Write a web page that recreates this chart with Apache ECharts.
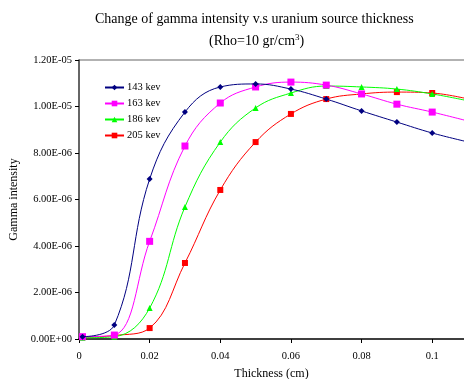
<!DOCTYPE html>
<html>
<head>
<meta charset="utf-8">
<script src="https://cdn.jsdelivr.net/npm/echarts@6/dist/echarts.min.js"></script>
<style>
html,body{margin:0;padding:0;background:#fff;}
#c{width:464px;height:379px;}
</style>
</head>
<body>
<div id="c"></div>
<script>
const thickness = [0.001, 0.01, 0.02, 0.03, 0.04, 0.05, 0.06, 0.07, 0.08, 0.09, 0.10, 0.11];
const seriesNames = ['143 kev', '163 kev', '186 kev', '205 kev'];
const kev143 = [0.10e-6, 0.60e-6, 6.88e-6, 9.76e-6, 10.84e-6, 10.97e-6, 10.75e-6, 10.32e-6, 9.81e-6, 9.33e-6, 8.86e-6, 8.48e-6];
const kev163 = [0.10e-6, 0.17e-6, 4.20e-6, 8.30e-6, 10.15e-6, 10.84e-6, 11.05e-6, 10.92e-6, 10.54e-6, 10.10e-6, 9.76e-6, 9.38e-6];
const kev186 = [0.05e-6, 0.10e-6, 1.33e-6, 5.68e-6, 8.47e-6, 9.94e-6, 10.58e-6, 10.88e-6, 10.84e-6, 10.75e-6, 10.54e-6, 10.25e-6];
const kev205 = [0.08e-6, 0.15e-6, 0.47e-6, 3.27e-6, 6.41e-6, 8.47e-6, 9.68e-6, 10.32e-6, 10.54e-6, 10.62e-6, 10.58e-6, 10.33e-6];
const xTicks = [0, 0.02, 0.04, 0.06, 0.08, 0.1];

const colors = ['#000080', '#FF00FF', '#00FF00', '#FF0000'];
const symbols = ['diamond', 'rect', 'triangle', 'rect'];
const symbolSizes = [6, 7, 6, 6];
const allData = [kev143, kev163, kev186, kev205];

function fmtExp(v) {
  if (v === 0) return '0.00E+00';
  let s = v.toExponential(2);
  let parts = s.split('e');
  let exp = parseInt(parts[1], 10);
  let sign = exp < 0 ? '-' : '+';
  let a = Math.abs(exp);
  return parts[0] + 'E' + sign + (a < 10 ? '0' + a : '' + a);
}

const chart = echarts.init(document.getElementById('c'), null, {renderer: 'canvas'});
const font = 'Liberation Serif, Times New Roman, serif';

const series = seriesNames.map((n, i) => ({
  name: n,
  type: 'line',
  smooth: 0.4,
  data: thickness.map((x, j) => [x, allData[i][j]]),
  symbol: symbols[i],
  symbolSize: symbolSizes[i],
  showAllSymbol: true,
  lineStyle: {color: colors[i], width: 1},
  itemStyle: {color: colors[i]},
  clip: true,
  z: 10 - i
}));

chart.setOption({
  animation: false,
  backgroundColor: '#fff',
  title: [{
    text: 'Change of gamma intensity v.s uranium source thickness',
    left: 90, top: 7,
    textStyle: {fontFamily: font, fontSize: 14, fontWeight: 'normal', color: '#000'}
  }, {
    text: '(Rho=10 gr/cm{sup|3})',
    left: 204, top: 28,
    textStyle: {fontFamily: font, fontSize: 14, fontWeight: 'normal', color: '#000',
      rich: {sup: {fontFamily: font, fontSize: 9, verticalAlign: 'top', color: '#000', padding: [0,0,7,0]}}}
  }],
  legend: {
    orient: 'vertical',
    left: 99, top: 77,
    itemWidth: 19, itemHeight: 7,
    itemGap: 5,
    data: seriesNames,
    textStyle: {fontFamily: font, fontSize: 10.5, color: '#000', padding: [0,0,0,-2]}
  },
  grid: {left: 79, top: 60, right: 0, bottom: 40, containLabel: false, outerBoundsMode: 'none', borderWidth: 0},
  xAxis: {
    type: 'value',
    min: 0, max: 0.109, interval: 0.02,
    name: 'Thickness (cm)', nameLocation: 'middle', nameGap: 29,
    nameTextStyle: {fontFamily: font, fontSize: 12, color: '#000'},
    axisLine: {show: true, onZero: false, lineStyle: {color: '#000', width: 1.5}},
    axisTick: {show: true, inside: false, length: 4, lineStyle: {color: '#000'}},
    axisLabel: {fontFamily: font, fontSize: 10.5, color: '#000', margin: 12, showMaxLabel: false,
      formatter: v => xTicks.some(t => Math.abs(t - v) < 1e-9) ? String(+v.toFixed(2)) : ''},
    splitLine: {show: false}
  },
  yAxis: {
    type: 'value',
    min: 0, max: 1.2e-5, interval: 2e-6,
    name: 'Gamma intensity', nameLocation: 'middle', nameGap: 57,
    nameTextStyle: {fontFamily: font, fontSize: 12, color: '#000'},
    axisLine: {show: true, lineStyle: {color: '#333', width: 1.5}},
    axisTick: {show: true, inside: false, length: 4, lineStyle: {color: '#000'}},
    axisLabel: {fontFamily: font, fontSize: 10.5, color: '#000', margin: 7, formatter: fmtExp},
    splitLine: {show: false}
  },
  graphic: [{
    type: 'line', shape: {x1: 79, y1: 60, x2: 464, y2: 60},
    style: {stroke: '#999', lineWidth: 1.5}, z: 0
  }],
  series: series
});
</script>
</body>
</html>
